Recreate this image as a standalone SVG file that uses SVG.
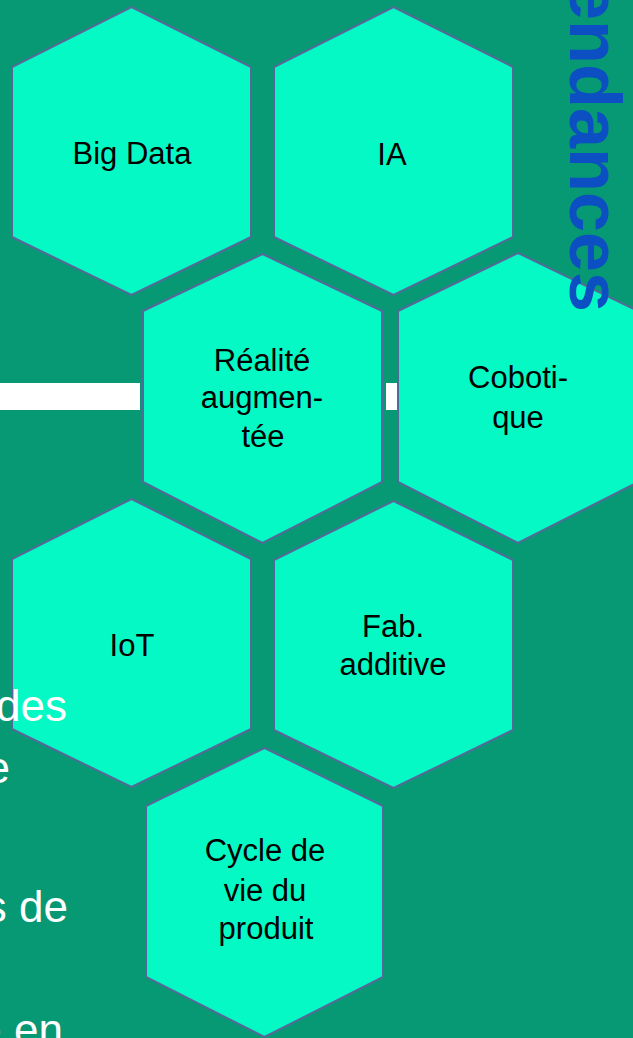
<svg xmlns="http://www.w3.org/2000/svg" width="633" height="1038" viewBox="0 0 633 1038">
  <style>
    .hex { fill: #05f9c4; stroke: #56689a; stroke-width: 2; stroke-linejoin: miter; }
    .lbl { font-family: "Liberation Sans", Arial, sans-serif; font-size: 31px; fill: #000000; text-anchor: middle; }
    .side { font-family: "Liberation Sans", Arial, sans-serif; font-size: 44px; fill: #ffffff; text-anchor: end; }
    .title { font-family: "Liberation Sans", Arial, sans-serif; font-size: 72px; font-weight: bold; fill: #0b4fc2; }
    .bar { fill: #ffffff; }
  </style>
  <rect x="0" y="0" width="633" height="1038" fill="#079874"/>
  <g id="connectors">
    <rect class="bar" x="0" y="383" width="140" height="27"/>
    <rect class="bar" x="386" y="383" width="11" height="27"/>
  </g>
  <g id="node-bigdata">
    <polygon class="hex" points="131.5,7 251,67 251,237 131.5,295 12,237 12,67"/>
    <text class="lbl" x="132" y="164">Big Data</text>
  </g>
  <g id="node-ia">
    <polygon class="hex" points="393.5,7 513,67 513,237 393.5,295 274,237 274,67"/>
    <text class="lbl" x="392" y="165">IA</text>
  </g>
  <g id="node-realite">
    <polygon class="hex" points="262.5,254 382,311 382,482 262.5,543 143,482 143,311"/>
    <text class="lbl" x="262" y="371">Réalité</text>
    <text class="lbl" x="262" y="408">augmen-</text>
    <text class="lbl" x="263" y="447">tée</text>
  </g>
  <g id="node-cobotique">
    <polygon class="hex" points="518,253 638,311 638,482 518,543 398,482 398,311"/>
    <text class="lbl" x="518" y="388">Coboti-</text>
    <text class="lbl" x="518" y="428">que</text>
  </g>
  <g id="node-iot">
    <polygon class="hex" points="131.5,499 251,559 251,729 131.5,787 12,729 12,559"/>
    <text class="lbl" x="132" y="656">IoT</text>
  </g>
  <g id="node-fab">
    <polygon class="hex" points="393.5,501 513,560 513,730 393.5,788 274,730 274,560"/>
    <text class="lbl" x="393" y="637">Fab.</text>
    <text class="lbl" x="393" y="675">additive</text>
  </g>
  <g id="node-cycle">
    <polygon class="hex" points="264.5,748 383,806 383,977 264.5,1037 146,977 146,806"/>
    <text class="lbl" x="265" y="861">Cycle de</text>
    <text class="lbl" x="265" y="901">vie du</text>
    <text class="lbl" x="266" y="939">produit</text>
  </g>
  <g id="title">
    <text class="title" transform="translate(570,-20) rotate(90)">endances</text>
  </g>
  <g id="side-text">
    <text class="side" x="67" y="721">des</text>
    <text class="side" x="10" y="783">e</text>
    <text class="side" x="68" y="922">s de</text>
    <text class="side" x="63" y="1045">e en</text>
  </g>
</svg>
